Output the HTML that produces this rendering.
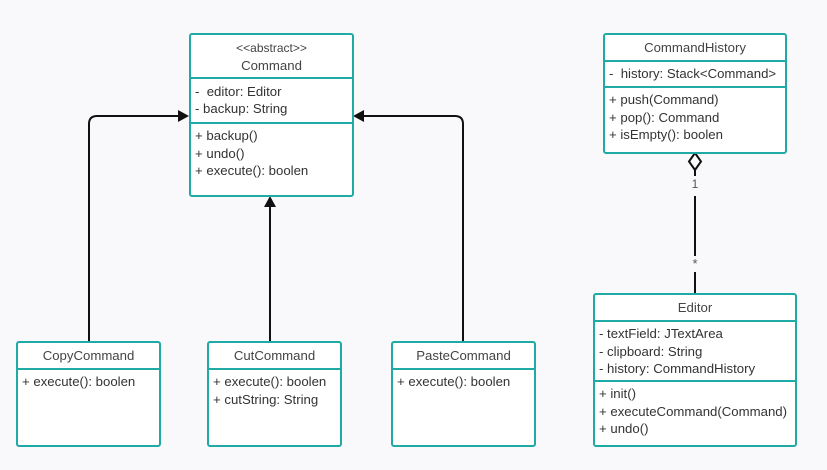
<!DOCTYPE html>
<html><head><style>
body{margin:0;width:827px;height:470px;background:#f9f9fb;position:relative;font-family:"Liberation Sans","DejaVu Sans",sans-serif;font-size:13.2px;color:#333;overflow:hidden}
.b{position:absolute;background:#fff;border:2px solid #20aaa5;border-radius:3px;box-sizing:border-box}
.s{border-bottom:2px solid #20aaa5;box-sizing:border-box}
.h{text-align:center;color:#444}
.t{padding:3px 4px;line-height:17.5px;color:#333;white-space:nowrap}
svg{position:absolute;left:0;top:0}
</style></head><body>
<svg width="827" height="470">
<g stroke="#111" stroke-width="2" fill="none">
<path d="M89 342 V124 Q89 116 97 116 H180"/>
<path d="M463 342 V124 Q463 116 455 116 H362"/>
<path d="M270 342 V206"/>
<path d="M695 170 V176 M695 196 V256 M695 272 V293"/>
</g>
<g fill="#111">
<polygon points="189,116 178,110 178,122"/>
<polygon points="353,116 364,110 364,122"/>
<polygon points="270,196 264,207 276,207"/>
</g>
<polygon points="695,153 701,161.5 695,170 689,161.5" fill="#fff" stroke="#111" stroke-width="2"/>
<text x="695" y="188" text-anchor="middle" font-size="12" fill="#555" font-family="Liberation Sans">1</text>
<text x="695" y="268" text-anchor="middle" font-size="13" fill="#555" font-family="Liberation Sans">*</text>
</svg>

<div class="b" style="left:189px;top:33px;width:165px;height:164px">
<div class="s h" style="height:44px;padding-top:4px;line-height:17px"><span style="font-size:12px">&lt;&lt;abstract&gt;&gt;</span><br>Command</div>
<div class="s t" style="height:45px;line-height:17px;padding-top:4px">-&nbsp; editor: Editor<br>- backup: String</div>
<div class="t" style="line-height:17.5px">+ backup()<br>+ undo()<br>+ execute(): boolen</div>
</div>

<div class="b" style="left:603px;top:33px;width:184px;height:121px">
<div class="s h" style="height:27px;line-height:25px">CommandHistory</div>
<div class="s t" style="height:26px;line-height:19px;padding-top:2px">-&nbsp; history: Stack&lt;Command&gt;</div>
<div class="t" style="line-height:17.5px">+ push(Command)<br>+ pop(): Command<br>+ isEmpty(): boolen</div>
</div>

<div class="b" style="left:593px;top:293px;width:204px;height:154px">
<div class="s h" style="height:27px;line-height:25px">Editor</div>
<div class="s t" style="height:60px;line-height:17.5px">- textField: JTextArea<br>- clipboard: String<br>- history: CommandHistory</div>
<div class="t" style="line-height:17.5px">+ init()<br>+ executeCommand(Command)<br>+ undo()</div>
</div>

<div class="b" style="left:16px;top:341px;width:145px;height:106px">
<div class="s h" style="height:27px;line-height:25px">CopyCommand</div>
<div class="t">+ execute(): boolen</div>
</div>
<div class="b" style="left:207px;top:341px;width:135px;height:106px">
<div class="s h" style="height:27px;line-height:25px">CutCommand</div>
<div class="t">+ execute(): boolen<br>+ cutString: String</div>
</div>
<div class="b" style="left:391px;top:341px;width:145px;height:106px">
<div class="s h" style="height:27px;line-height:25px">PasteCommand</div>
<div class="t">+ execute(): boolen</div>
</div>
</body></html>
